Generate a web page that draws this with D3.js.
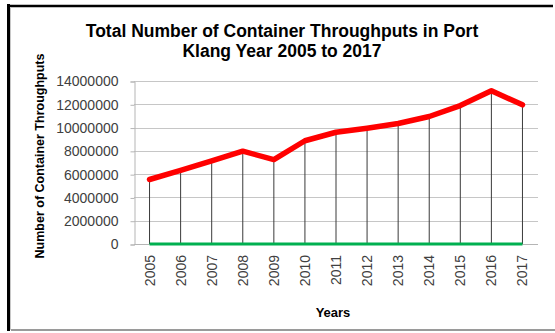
<!DOCTYPE html>
<html>
<head>
<meta charset="utf-8">
<script src="https://cdn.jsdelivr.net/npm/d3@7"></script>
<style>
  html, body { margin: 0; padding: 0; background: #fff; }
  svg { display: block; }
  text { font-family: "Liberation Sans", Arial, sans-serif; }
</style>
</head>
<body>
<svg id="chart" width="555" height="333"></svg>
<script>
// Container throughputs at Port Klang (TEUs), 2005-2017
const years = ["2005","2006","2007","2008","2009","2010","2011","2012","2013","2014","2015","2016","2017"];
const throughput = [5540000, 6320000, 7130000, 7970000, 7250000, 8870000, 9600000, 9950000, 10350000, 10950000, 11890000, 13170000, 11950000];
const baseline = [0, 0, 0, 0, 0, 0, 0, 0, 0, 0, 0, 0, 0];
const yTicks = [0, 2000000, 4000000, 6000000, 8000000, 10000000, 12000000, 14000000];
const titleLines = ["Total Number of Container Throughputs in Port", "Klang Year 2005 to 2017"];

const svg = d3.select("#chart");

// outer frame
svg.append("line").attr("x1", 8.5).attr("x2", 8.5).attr("y1", 4).attr("y2", 331)
  .attr("stroke", "#000").attr("stroke-width", 3);
svg.append("line").attr("x1", 7).attr("x2", 553).attr("y1", 6).attr("y2", 6)
  .attr("stroke", "#000").attr("stroke-width", 2.5);
svg.append("line").attr("x1", 11).attr("x2", 555).attr("y1", 330).attr("y2", 330)
  .attr("stroke", "#9a9a9a").attr("stroke-width", 2);
svg.append("line").attr("x1", 10.5).attr("x2", 10.5).attr("y1", 7).attr("y2", 330)
  .attr("stroke", "#c8c8c8").attr("stroke-width", 1);

const plot = { left: 134, right: 538, top: 81, bottom: 244 };

const x = d3.scaleBand().domain(years).range([plot.left, plot.right]);
const cx = d => x(d) + x.bandwidth() / 2;
const y = d3.scaleLinear().domain([0, 14000000]).range([plot.bottom, plot.top]);

// horizontal gridlines
svg.append("g").selectAll("line").data(yTicks).join("line")
  .attr("x1", plot.left).attr("x2", plot.right)
  .attr("y1", d => Math.round(y(d)) + 0.5).attr("y2", d => Math.round(y(d)) + 0.5)
  .attr("stroke", "#c6c6c6").attr("stroke-width", 1);

// y axis
const yAxis = d3.axisLeft(y).tickValues(yTicks).tickSize(4).tickPadding(12)
  .tickFormat(d3.format("d"));
const yg = svg.append("g").attr("transform", `translate(${plot.left + 0.5},0.5)`).call(yAxis);
yg.select(".domain").attr("stroke", "#b5b5b5");
yg.selectAll(".tick line").attr("stroke", "#b5b5b5");
yg.selectAll(".tick text").attr("fill", "#404040").attr("font-size", 14)
  .attr("font-family", "Liberation Sans, Arial, sans-serif");

// x axis line
svg.append("line").attr("x1", plot.left).attr("x2", plot.right)
  .attr("y1", plot.bottom + 0.5).attr("y2", plot.bottom + 0.5)
  .attr("stroke", "#b5b5b5");

// x tick labels (rotated)
svg.append("g").selectAll("text").data(years).join("text")
  .attr("transform", d => `translate(${cx(d) + 5},${plot.bottom + 11}) rotate(-90)`)
  .attr("text-anchor", "end")
  .attr("fill", "#404040").attr("font-size", 14)
  .text(d => d);

// drop lines from each point down to the axis
svg.append("g").selectAll("line").data(years).join("line")
  .attr("x1", d => cx(d)).attr("x2", d => cx(d))
  .attr("y1", (d, i) => y(throughput[i])).attr("y2", y(0))
  .attr("stroke", "#3a3a3a").attr("stroke-width", 1);

// baseline series
const line = d3.line().x((d, i) => cx(years[i])).y(d => y(d));
svg.append("path").datum(baseline).attr("d", line)
  .attr("fill", "none").attr("stroke", "#00b050").attr("stroke-width", 3);

// throughput series
svg.append("path").datum(throughput).attr("d", line)
  .attr("fill", "none").attr("stroke", "#ff0000").attr("stroke-width", 5.5)
  .attr("stroke-linejoin", "round").attr("stroke-linecap", "round");

// title
svg.append("g").selectAll("text").data(titleLines).join("text")
  .attr("x", 282).attr("y", (d, i) => 37 + i * 20)
  .attr("text-anchor", "middle").attr("font-weight", "bold").attr("font-size", 17.5)
  .attr("fill", "#000")
  .text(d => d);

// axis titles
svg.append("text")
  .attr("transform", "translate(44,156) rotate(-90)")
  .attr("text-anchor", "middle").attr("font-weight", "bold").attr("font-size", 12.5)
  .attr("fill", "#000")
  .text("Number of Container Throughputs");

svg.append("text")
  .attr("x", 333).attr("y", 317)
  .attr("text-anchor", "middle").attr("font-weight", "bold").attr("font-size", 13)
  .attr("fill", "#000")
  .text("Years");
</script>
</body>
</html>
